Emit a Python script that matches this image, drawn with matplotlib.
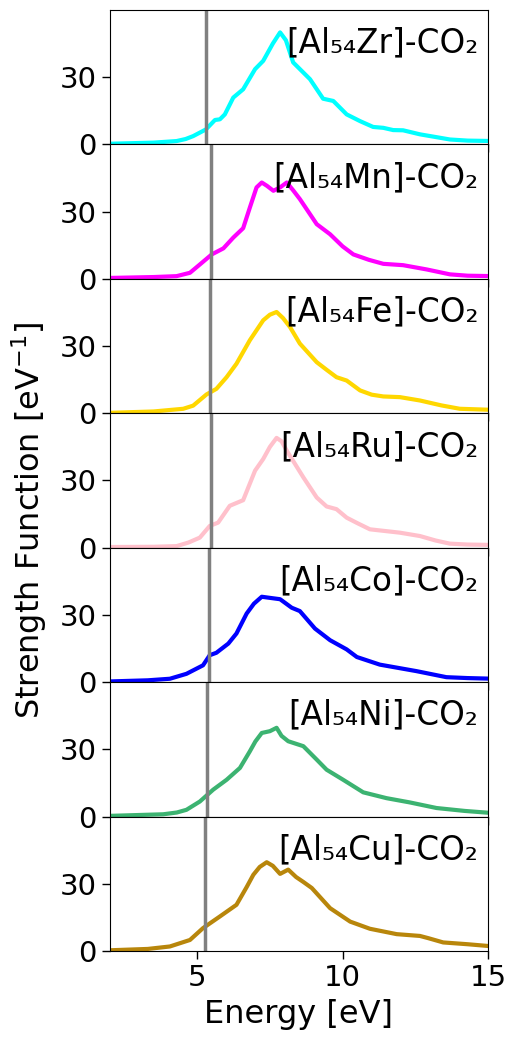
import matplotlib
matplotlib.use("Agg")
import matplotlib.pyplot as plt

plt.rcParams['font.family'] = ['DejaVu Sans']

labels = ["[Al₅₄Zr]-CO₂", "[Al₅₄Mn]-CO₂", "[Al₅₄Fe]-CO₂", "[Al₅₄Ru]-CO₂",
          "[Al₅₄Co]-CO₂", "[Al₅₄Ni]-CO₂", "[Al₅₄Cu]-CO₂"]
colors = ["cyan", "magenta", "gold", "pink", "blue", "mediumseagreen", "darkgoldenrod"]
thresholds = [5.30, 5.49, 5.44, 5.49, 5.39, 5.34, 5.28]

zr_e = [2.0, 3.5, 4.29, 4.6, 4.86, 5.30, 5.61, 5.78, 5.95, 6.24, 6.58, 6.99, 7.27, 7.6, 7.85,
        8.05, 8.30, 8.88, 9.33, 9.68, 10.14, 10.6, 11.05, 11.4, 11.74, 12.08, 12.66, 13.2,
        13.69, 14.3, 15.2]
zr_s = [0.3, 0.8, 1.5, 2.4, 3.7, 6.7, 10.9, 11.2, 13.4, 20.9, 24.6, 33.6, 37.3, 45.0, 50.0,
        46.5, 36.6, 29.1, 20.4, 19.4, 13.4, 10.4, 7.8, 7.4, 6.4, 6.3, 4.5, 3.3,
        2.2, 1.7, 1.5]

mn_e = [2.0, 3.5, 4.29, 4.75, 5.09, 5.5, 5.9, 6.24, 6.58, 6.81, 7.04, 7.22, 7.4, 7.62, 7.85,
        8.08, 8.3, 8.53, 9.11, 9.57, 10.0, 10.37, 10.9, 11.4, 12.08, 12.89, 13.69, 14.3, 15.2]
mn_s = [0.4, 0.8, 1.2, 2.7, 6.4, 10.9, 13.6, 18.4, 22.6, 31.8, 40.8, 43.0, 41.5, 39.3, 40.8,
        43.0, 39.5, 35.6, 24.4, 19.9, 14.5, 10.9, 8.5, 6.7, 6.1, 4.2, 2.0, 1.4, 1.2]

fe_e = [2.0, 3.5, 4.52, 4.86, 5.32, 5.66, 6.01, 6.35, 6.81, 7.27, 7.5, 7.73, 7.95, 8.19, 8.53,
        9.11, 9.45, 9.79, 10.14, 10.6, 11.0, 11.4, 11.97, 12.66, 13.4, 14.03, 15.2]
fe_s = [0.2, 0.8, 2.0, 3.4, 8.4, 10.9, 16.1, 22.1, 32.6, 41.5, 44.0, 45.2, 42.5, 38.5, 31.1,
        22.8, 19.4, 16.1, 14.6, 10.2, 8.3, 7.5, 7.2, 5.7, 3.5, 2.0, 1.5]

ru_e = [2.0, 3.5, 4.29, 4.7, 5.09, 5.43, 5.72, 6.12, 6.58, 6.99, 7.27, 7.5, 7.73, 7.9, 8.08,
        8.65, 9.11, 9.45, 9.79, 10.14, 10.5, 10.94, 11.97, 12.66, 13.2, 13.69, 14.3, 15.2]
ru_s = [0.3, 0.4, 0.7, 2.3, 4.5, 9.7, 11.2, 18.7, 21.2, 34.4, 39.6, 45.0, 49.0, 47.5, 43.3,
        31.4, 22.4, 18.4, 17.2, 13.4, 11.0, 8.2, 6.7, 5.2, 3.2, 1.8, 1.4, 1.2]

co_e = [2.0, 3.3, 4.06, 4.63, 5.2, 5.43, 5.66, 6.07, 6.35, 6.7, 6.95, 7.22, 7.5, 7.85, 8.25,
        8.53, 9.05, 9.57, 10.14, 10.49, 11.28, 12.54, 13.57, 14.3, 15.2]
co_s = [0.3, 0.8, 1.5, 3.7, 7.5, 12.0, 13.1, 17.2, 21.7, 30.6, 35.0, 38.1, 37.6, 37.0, 33.2,
        31.7, 23.9, 18.7, 14.6, 11.2, 7.8, 4.9, 2.2, 1.8, 1.5]

ni_e = [2.0, 3.83, 4.3, 4.63, 5.09, 5.55, 6.01, 6.47, 6.81, 7.0, 7.22, 7.5, 7.73, 7.9, 8.13,
        8.65, 9.11, 9.45, 10.02, 10.71, 11.51, 12.31, 13.23, 14.2, 15.2]
ni_s = [0.3, 1.0, 1.8, 3.0, 6.7, 12.0, 16.4, 21.7, 29.1, 33.5, 37.3, 38.1, 39.6, 36.0, 33.6,
        31.4, 25.4, 20.9, 16.4, 10.8, 8.2, 6.3, 3.8, 2.5, 1.5]

cu_e = [2.0, 3.3, 4.06, 4.75, 5.2, 5.78, 6.35, 6.7, 6.93, 7.15, 7.39, 7.6, 7.85, 8.13, 8.4,
        8.65, 8.94, 9.57, 10.26, 10.94, 11.86, 12.66, 12.95, 13.46, 14.3, 15.2]
cu_s = [0.3, 0.9, 2.0, 4.9, 10.2, 15.4, 20.6, 28.5, 34.0, 37.5, 39.6, 38.0, 34.4, 36.3, 33.0,
        30.8, 28.1, 19.1, 13.1, 9.9, 7.5, 6.7, 5.7, 3.8, 3.0, 2.0]

energies = [zr_e, mn_e, fe_e, ru_e, co_e, ni_e, cu_e]
strengths = [zr_s, mn_s, fe_s, ru_s, co_s, ni_s, cu_s]

fig, axes = plt.subplots(7, 1, sharex=True, figsize=(5.08, 10.41), dpi=100)
fig.subplots_adjust(left=0.2165, right=0.9606, top=0.9904, bottom=0.0865, hspace=0)

for ax, e, s, c, t, lab in zip(axes, energies, strengths, colors, thresholds, labels):
    ax.plot(e, s, color=c, lw=3, solid_joinstyle="round")
    ax.axvline(t, color="gray", lw=2.5)
    ax.set_xlim(2, 15)
    ax.set_ylim(0, 60)
    ax.set_yticks([0, 30])
    ax.tick_params(labelsize=21, length=6, width=1.0)
    ax.text(0.975, 0.875, lab, transform=ax.transAxes, ha="right", va="top", fontsize=23.5)

axes[-1].set_xticks([5, 10, 15])
axes[-1].set_xlabel("Energy [eV]", fontsize=23, labelpad=5)
fig.text(0.057, 0.5, "Strength Function [eV$^{-1}$]", rotation=90,
         ha="center", va="center", fontsize=23)

fig.savefig("out.png", dpi=100)
